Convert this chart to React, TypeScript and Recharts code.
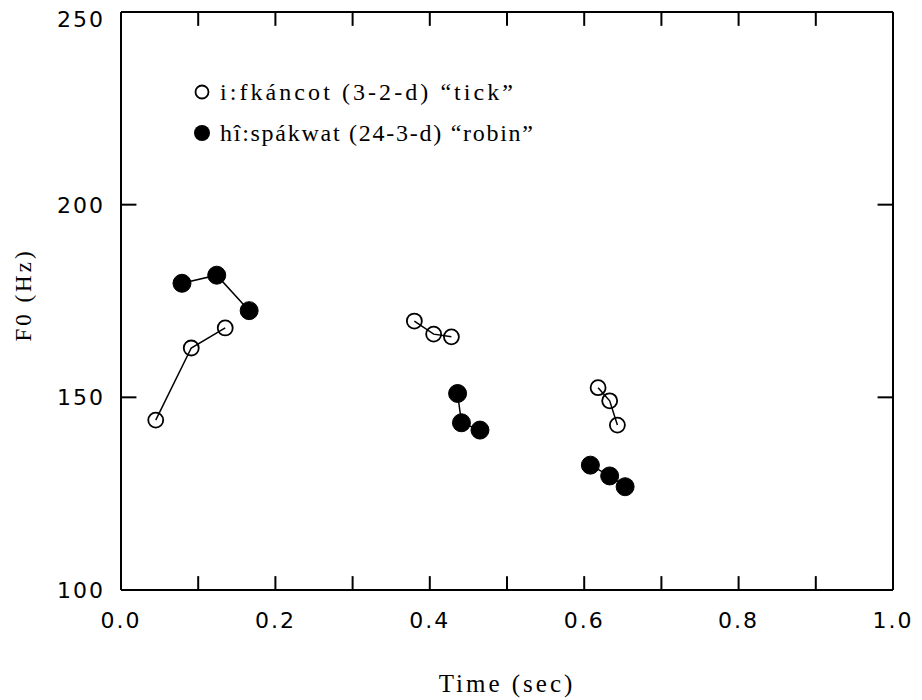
import React from 'react';
import { ScatterChart, Scatter, XAxis, YAxis, ReferenceLine } from 'recharts';

// Time (sec) and F0 (Hz) values per syllable group
const tickTime1 = [0.045, 0.091, 0.135];
const tickF01 = [144.1, 162.8, 168.0];
const tickTime2 = [0.380, 0.405, 0.428];
const tickF02 = [169.8, 166.4, 165.7];
const tickTime3 = [0.618, 0.633, 0.643];
const tickF03 = [152.5, 149.1, 142.8];

const robinTime1 = [0.079, 0.124, 0.166];
const robinF01 = [179.6, 181.7, 172.5];
const robinTime2 = [0.436, 0.441, 0.465];
const robinF02 = [151.0, 143.4, 141.5];
const robinTime3 = [0.608, 0.633, 0.653];
const robinF03 = [132.4, 129.6, 126.8];

const xTicks = [0, 0.1, 0.2, 0.3, 0.4, 0.5, 0.6, 0.7, 0.8, 0.9, 1.0];
const yTicks = [100, 150, 200, 250];
const xInnerTicks = [0.1, 0.2, 0.3, 0.4, 0.5, 0.6, 0.7, 0.8, 0.9];
const yInnerTicks = [150, 200];

const seriesNames = ['i:fkáncot (3-2-d) “tick”', 'hî:spákwat (24-3-d) “robin”'];

const X_MIN = 0, X_MAX = 1, Y_MIN = 100, Y_MAX = 250;
// inward tick length, expressed in axis units
const X_TICK_LEN = 3.6; // Hz
const Y_TICK_LEN = 0.02; // sec

const zip = (xs: number[], ys: number[]) => xs.map((t, i) => ({ t, f: ys[i] }));

const tickGroups = [zip(tickTime1, tickF01), zip(tickTime2, tickF02), zip(tickTime3, tickF03)];
const robinGroups = [zip(robinTime1, robinF01), zip(robinTime2, robinF02), zip(robinTime3, robinF03)];

const tickFont = { fontFamily: 'DejaVu Sans', fontSize: 22, fill: '#000', letterSpacing: 2 };
const serif = 'Liberation Serif';

const OpenDot = (p: any) => (
  <circle cx={p.cx} cy={p.cy} r={7.5} fill="none" stroke="#000" strokeWidth={1.8} />
);
const FilledDot = (p: any) => (
  <circle cx={p.cx} cy={p.cy} r={9} fill="#000" stroke="#000" strokeWidth={1} />
);

const YTick = (p: any) => {
  const v = p.payload.value;
  const extra = v === Y_MAX ? 7 : 0;
  return (
    <text x={p.x} y={p.y + extra} dy="0.36em" textAnchor="end" fontFamily="DejaVu Sans" fontSize={22} letterSpacing={2} fill="#000">
      {v}
    </text>
  );
};

const LegendBox = () => (
  <svg width={460} height={90} style={{ display: 'block', position: 'absolute', left: 184, top: 64 }}>
    <circle cx={10} cy={20} r={6.5} fill="none" stroke="#000" strokeWidth={1.8} />
    <text x={28} y={20} dy="0.35em" fontFamily={serif} fontSize={24} textLength={293} lengthAdjust="spacing" fill="#000">
      {seriesNames[0]}
    </text>
    <circle cx={10} cy={61} r={8} fill="#000" />
    <text x={28} y={61} dy="0.35em" fontFamily={serif} fontSize={24} textLength={313} lengthAdjust="spacing" fill="#000">
      {seriesNames[1]}
    </text>
  </svg>
);

const XTitle = (props: any) => {
  const vb = props.viewBox;
  return (
    <text x={vb.x + vb.width / 2} y={vb.y + 102} textAnchor="middle" fontFamily={serif} fontSize={25} letterSpacing={3} fill="#000">
      Time (sec)
    </text>
  );
};

const YTitle = (props: any) => {
  const vb = props.viewBox;
  const cx = vb.x + 15;
  const cy = vb.y + vb.height / 2 - 6;
  return (
    <text x={cx} y={cy} textAnchor="middle" dy="0.35em" transform={`rotate(-90 ${cx} ${cy})`} fontFamily={serif} fontSize={23} letterSpacing={3} fill="#000">
      F0 (Hz)
    </text>
  );
};

const tickStroke = { stroke: '#000', strokeWidth: 2 };

export default function App() {
  return (
    <div style={{ width: 914, height: 692, background: '#fff', position: 'relative' }}>
      <ScatterChart width={914} height={692} margin={{ top: 3, right: 28, bottom: 0, left: 0 }}>
        <XAxis
          xAxisId="b"
          type="number"
          dataKey="t"
          domain={[X_MIN, X_MAX]}
          ticks={xTicks}
          interval={0}
          orientation="bottom"
          height={110}
          tickSize={0}
          tickMargin={22}
          tickLine={false}
          axisLine={{ stroke: '#000', strokeWidth: 2 }}
          tick={tickFont}
          tickFormatter={(v: number) => (Math.round(v * 10) % 2 === 0 ? v.toFixed(1) : '')}
          label={<XTitle />}
        />
        <XAxis
          xAxisId="t"
          type="number"
          dataKey="t"
          domain={[X_MIN, X_MAX]}
          orientation="top"
          height={1}
          tickLine={false}
          tick={false}
          axisLine={{ stroke: '#000', strokeWidth: 2 }}
        />
        <YAxis
          yAxisId="l"
          type="number"
          dataKey="f"
          domain={[Y_MIN, Y_MAX]}
          ticks={yTicks}
          interval={0}
          orientation="left"
          width={113}
          tickSize={0}
          tickMargin={16}
          tickLine={false}
          axisLine={{ stroke: '#000', strokeWidth: 2 }}
          tick={<YTick />}
          label={<YTitle />}
        />
        <YAxis
          yAxisId="r"
          type="number"
          dataKey="f"
          domain={[Y_MIN, Y_MAX]}
          orientation="right"
          width={1}
          tickLine={false}
          tick={false}
          axisLine={{ stroke: '#000', strokeWidth: 2 }}
        />
        {xInnerTicks.map((v) => (
          <ReferenceLine
            key={`xb${v}`}
            xAxisId="b"
            yAxisId="l"
            segment={[{ x: v, y: Y_MIN }, { x: v, y: Y_MIN + X_TICK_LEN }]}
            {...tickStroke}
            ifOverflow="visible"
          />
        ))}
        {xInnerTicks.map((v) => (
          <ReferenceLine
            key={`xt${v}`}
            xAxisId="b"
            yAxisId="l"
            segment={[{ x: v, y: Y_MAX }, { x: v, y: Y_MAX - X_TICK_LEN }]}
            {...tickStroke}
            ifOverflow="visible"
          />
        ))}
        {yInnerTicks.map((v) => (
          <ReferenceLine
            key={`yl${v}`}
            xAxisId="b"
            yAxisId="l"
            segment={[{ x: X_MIN, y: v }, { x: X_MIN + Y_TICK_LEN, y: v }]}
            {...tickStroke}
            ifOverflow="visible"
          />
        ))}
        {yInnerTicks.map((v) => (
          <ReferenceLine
            key={`yr${v}`}
            xAxisId="b"
            yAxisId="l"
            segment={[{ x: X_MAX, y: v }, { x: X_MAX - Y_TICK_LEN, y: v }]}
            {...tickStroke}
            ifOverflow="visible"
          />
        ))}
        {tickGroups.map((g, i) => (
          <Scatter
            key={`tick${i}`}
            name={seriesNames[0]}
            data={g}
            xAxisId="b"
            yAxisId="l"
            line={{ stroke: '#000', strokeWidth: 1.5 }}
            lineType="joint"
            shape={OpenDot}
            isAnimationActive={false}
          />
        ))}
        {robinGroups.map((g, i) => (
          <Scatter
            key={`robin${i}`}
            name={seriesNames[1]}
            data={g}
            xAxisId="b"
            yAxisId="l"
            line={{ stroke: '#000', strokeWidth: 1.5 }}
            lineType="joint"
            shape={FilledDot}
            isAnimationActive={false}
          />
        ))}
      </ScatterChart>
      <LegendBox />
    </div>
  );
}
